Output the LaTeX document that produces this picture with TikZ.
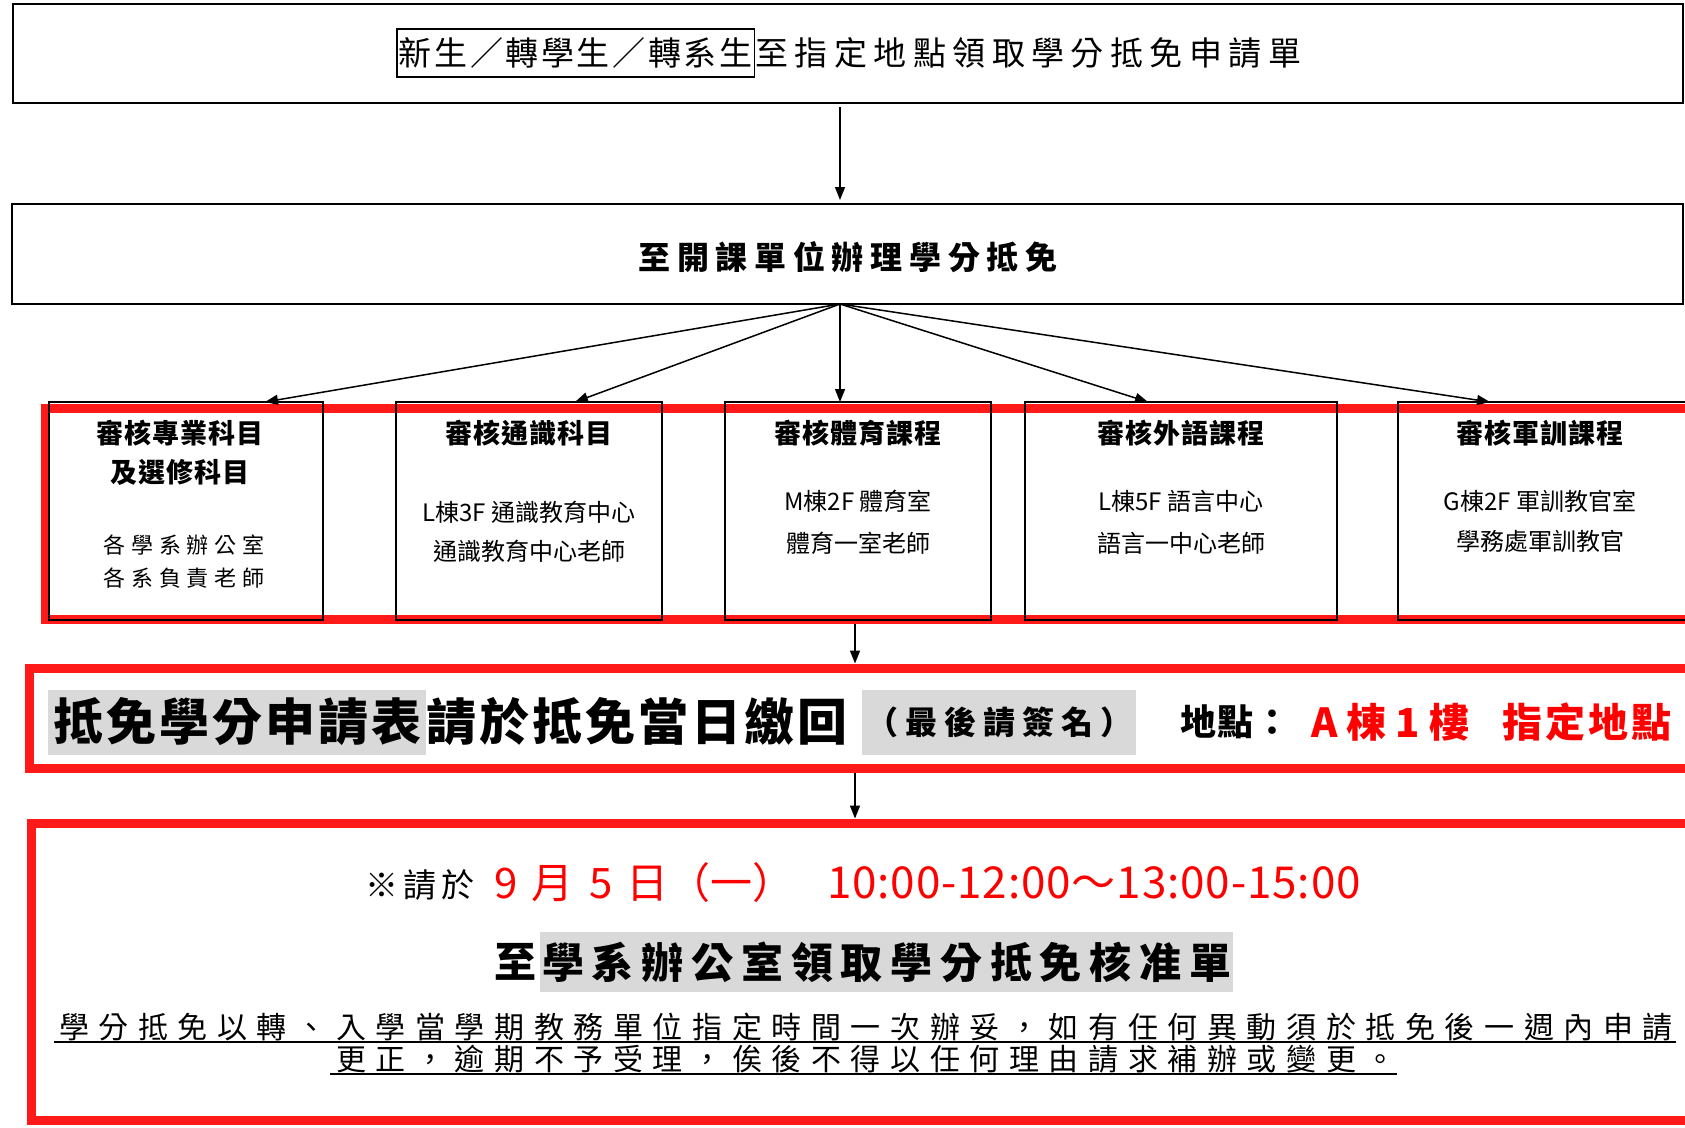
\documentclass[tikz,border=0pt]{standalone}
\usepackage{fontspec}
\newfontfamily\cjk{Noto Sans CJK TC}
\usetikzlibrary{arrows.meta}
\definecolor{boxred}{RGB}{255,26,26}
\definecolor{txtred}{RGB}{255,0,0}
\definecolor{hl}{RGB}{217,217,217}
\newcommand{\fsz}[2]{\fontsize{#1}{#1}\selectfont\addfontfeatures{LetterSpace=#2}}
\tikzset{
  box/.style={draw=black, line width=1.5pt, inner sep=0pt, outer sep=0pt, anchor=north west},
  grpbox/.style={draw=boxred, line width=9pt, inner sep=0pt, outer sep=0pt, anchor=north west},
  arr/.style={-{Triangle[length=13pt,width=10pt]}, line width=1.5pt},
  txt/.style={inner sep=0pt},
  hdr/.style={inner sep=0pt, font=\cjk\bfseries\fsz{27}{3}},
  bodytxt/.style={inner sep=0pt, font=\cjk\fsz{24}{0}},
  uline/.style={line width=1.5pt}
}
\begin{document}
\begin{tikzpicture}[x=1pt,y=-1pt]
\useasboundingbox (0,0) rectangle (1685,1127);
\clip (0,0) rectangle (1685,1127);
\fill[white] (0,0) rectangle (1685,1127);

% ---- top box
\node[box, minimum width=1670pt, minimum height=99pt] (top) at (13,4) {};
\node[draw, line width=1.5pt, inner xsep=2pt, inner ysep=0pt, minimum height=48pt, anchor=west,
      font=\cjk\fsz{33}{8}] (tag) at (396,53) {新生／轉學生／轉系生};
\node[txt, anchor=west, font=\cjk\fsz{33}{19.5}] (toptxt) at (tag.east) {至指定地點領取學分抵免申請單};

% ---- second box
\node[box, minimum width=1671pt, minimum height=100pt] (open) at (12,204) {};
\node[txt, font=\cjk\bfseries\fsz{32}{21}] (opentxt) at (848,257) {至開課單位辦理學分抵免};

\coordinate (fan) at (840,304);
\draw[arr, shorten <=4pt, shorten >=4pt] (top.south -| fan) -- (open.north -| fan);

% ---- red group 1 and review boxes
\node[grpbox, minimum width=1700pt, minimum height=211pt] (grp1) at (45,408) {};
\node[box, minimum width=274pt, minimum height=218pt] (b1) at (49,402) {};
\node[box, minimum width=266pt, minimum height=218pt] (b2) at (396,402) {};
\node[box, minimum width=266pt, minimum height=218pt] (b3) at (725,402) {};
\node[box, minimum width=312pt, minimum height=218pt] (b4) at (1025,402) {};
\node[box, minimum width=290pt, minimum height=218pt] (b5) at (1398,402) {};

\coordinate (t1) at (265,402);
\coordinate (t2) at (575,402);
\coordinate (t3) at (840,402);
\coordinate (t4) at (1148,402);
\coordinate (t5) at (1490,402);
\foreach \t in {t1,t2,t3,t4,t5} \draw[arr] (fan) -- (\t);

\node[hdr] (h1a) at (180,433) {審核專業科目};
\node[hdr] (h1b) at (180,472) {及選修科目};
\node[txt, font=\cjk\fsz{22}{27}] (c1a) at (184,545) {各學系辦公室};
\node[txt, font=\cjk\fsz{22}{27}] (c1b) at (184,578) {各系負責老師};

\node[hdr] (h2) at (b2.north |- 0,433) {審核通識科目};
\node[bodytxt] (c2a) at (b2.north |- 0,512) {L棟3F 通識教育中心};
\node[bodytxt] (c2b) at (b2.north |- 0,551) {通識教育中心老師};

\node[hdr] (h3) at (b3.north |- 0,433) {審核體育課程};
\node[bodytxt] (c3a) at (b3.north |- 0,501) {M棟2F 體育室};
\node[bodytxt] (c3b) at (b3.north |- 0,543) {體育一室老師};

\node[hdr] (h4) at (b4.north |- 0,433) {審核外語課程};
\node[bodytxt] (c4a) at (b4.north |- 0,501) {L棟5F 語言中心};
\node[bodytxt] (c4b) at (b4.north |- 0,543) {語言一中心老師};

\node[hdr] (h5) at (1540,433) {審核軍訓課程};
\node[bodytxt] (c5a) at (1540,501) {G棟2F 軍訓教官室};
\node[bodytxt] (c5b) at (1540,541) {學務處軍訓教官};

% ---- red group 2
\node[grpbox, minimum width=1700pt, minimum height=100pt] (grp2) at (29,668) {};
\draw[arr, shorten <=4.5pt, shorten >=4.5pt] (grp1.south -| 855,0) -- (grp2.north -| 855,0);

\node[txt, fill=hl, inner xsep=5pt, minimum height=65pt, anchor=west,
      font=\cjk\bfseries\fsz{50}{6}] (form) at (48,722) {抵免學分申請表};
\node[txt, anchor=west, font=\cjk\bfseries\fsz{50}{6}] (ret) at (form.east) {請於抵免當日繳回};
\node[txt, fill=hl, inner xsep=4pt, minimum height=65pt, anchor=west,
      font=\cjk\bfseries\fsz{32}{22}] (sign) at (862,722) {（最後請簽名）};
\node[txt, anchor=west, font=\cjk\bfseries\fsz{36}{3}] (loc) at (1180,722) {地點：};
\node[txt, anchor=west, text=txtred, font=\cjk\bfseries\fsz{40}{0}] (loca) at (1311,722) {A 棟 1 樓};
\node[txt, anchor=west, text=txtred, font=\cjk\bfseries\fsz{40}{8}] (locb) at (1502,722) {指定地點};

% ---- red group 3
\node[grpbox, minimum width=1700pt, minimum height=297pt] (grp3) at (31,823) {};
\draw[arr, shorten <=4.5pt, shorten >=4.5pt] (grp2.south -| 855,0) -- (grp3.north -| 855,0);

\node[txt, anchor=west, font=\cjk\fsz{33}{16}] (pls) at (365,885) {※請於};
\node[txt, anchor=west, text=txtred, font=\cjk\fsz{42}{0}] (date) at (494,883)
  {9\hspace{14pt}月\hspace{16pt}5\hspace{14pt}日（一）};
\node[txt, anchor=west, text=txtred, font=\cjk\fsz{44}{2}] (time) at (827,883) {10:00-12:00～13:00-15:00};

\node[txt, anchor=west, font=\cjk\bfseries\fsz{42}{10}] (to) at (494,962) {至};
\node[txt, fill=hl, inner xsep=2pt, minimum height=60pt, anchor=west,
      font=\cjk\bfseries\fsz{42}{18.5}] (slip) at (540,962) {學系辦公室領取學分抵免核准單};

\node[txt, font=\cjk\fsz{30}{32}] (p1) at (866,1027) {學分抵免以轉、入學當學期教務單位指定時間一次辦妥，如有任何異動須於抵免後一週內申請};
\node[txt, font=\cjk\fsz{30}{32}] (p2) at (866,1059) {更正，逾期不予受理，俟後不得以任何理由請求補辦或變更。};
\draw[uline] (54,1042) -- (1676,1042);
\draw[uline] (330,1074) -- (1397,1074);
\end{tikzpicture}
\end{document}
